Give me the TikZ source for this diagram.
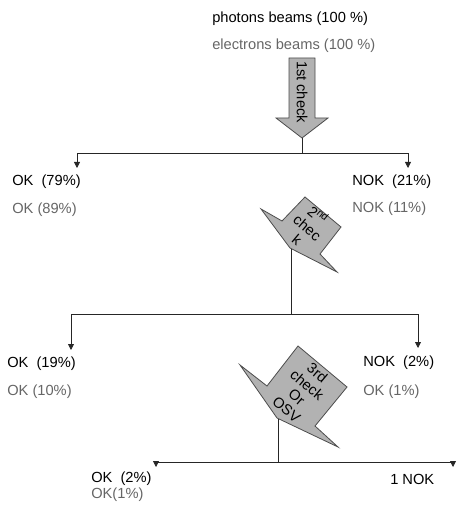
\documentclass[tikz,border=0pt]{standalone}
\usepackage{fontspec}
\setmainfont{Liberation Sans}
\usetikzlibrary{arrows.meta}
\begin{document}
\begin{tikzpicture}[x=0.75pt, y=-0.75pt,
  font=\fontsize{11}{12}\selectfont,
  txt/.style={anchor=west, inner sep=0pt, text=#1},
  txt/.default=black,
  blockarrow/.style={draw=black!70, line width=0.6pt, fill=black!30},
  wire/.style={draw=black!85, line width=0.6pt},
  arr/.style={wire, -{Triangle[width=4.5pt, length=4.5pt]}}
]
  \useasboundingbox (0,0) rectangle (470,523);
  % beams
  \node[txt]         (photons)   at (212,19) {photons beams (100 \%)};
  \node[txt=black!60] (electrons) at (212,46) {electrons beams (100 \%)};
  % 1st check
  \draw[blockarrow] (289,58) -- (315,58) -- (315,118) -- (328,118)
        -- (302,138) -- (276,118) -- (289,118) -- cycle;
  \node[rotate=-90, inner sep=0pt] (check1) at (302,92) {1st check};
  \coordinate (t1) at (302,138);
  \coordinate (s1) at (302,153);
  \coordinate (e1l) at (77,168);
  \coordinate (e1r) at (408,168);
  \draw[wire] (t1) -- (s1);
  \draw[arr] (s1) -| (e1l);
  \draw[arr] (s1) -| (e1r);
  \node[txt]          (ok1)   at (12,182)  {OK\ \ (79\%)};
  \node[txt=black!60] (ok1e)  at (12,210)  {OK (89\%)};
  \node[txt]          (nok1)  at (352,182) {NOK\ \ (21\%)};
  \node[txt=black!60] (nok1e) at (352,209) {NOK (11\%)};
  % 2nd check
  \draw[blockarrow] (305,197) -- (341,227) -- (320,254) -- (337,272)
        -- (290,248) -- (261,209) -- (282,221) -- cycle;
  \node[rotate=-40, align=center, inner sep=0pt] (check2) at (308,227)
        {2\textsuperscript{nd}\\chec\\k};
  \coordinate (t2) at (291,249);
  \coordinate (s2) at (291,314);
  \coordinate (e2l) at (71,350);
  \coordinate (e2r) at (418,348);
  \draw[wire] (t2) -- (s2);
  \draw[arr] (s2) -| (e2l);
  \draw[arr] (s2) -| (e2r);
  \node[txt]          (ok2)   at (7,364)   {OK\ \ (19\%)};
  \node[txt=black!60] (ok2e)  at (7,392)   {OK (10\%)};
  \node[txt]          (nok2)  at (363,363) {NOK\ \ (2\%)};
  \node[txt=black!60] (nok2e) at (363,392) {OK (1\%)};
  % 3rd check
  \draw[blockarrow] (298,346) -- (347,387) -- (315,426) -- (338,447)
        -- (277,418) -- (240,365) -- (267,386) -- cycle;
  \node[rotate=-40, align=center, inner sep=0pt] (check3) at (302,391)
        {3rd\\check\\Or\\OSV};
  \coordinate (t3) at (278,419);
  \coordinate (s3) at (278,462);
  \coordinate (e3l) at (156,467);
  \coordinate (e3r) at (453,467);
  \draw[wire] (t3) -- (s3);
  \draw[arr] (s3) -| (e3l);
  \draw[arr] (s3) -| (e3r);
  \node[txt]          (ok3)  at (91,479)  {OK\ \ (2\%)};
  \node[txt=black!60] (ok3e) at (91,495)  {OK(1\%)};
  \node[txt]          (nok3) at (390,479) {1 NOK};
\end{tikzpicture}
\end{document}
